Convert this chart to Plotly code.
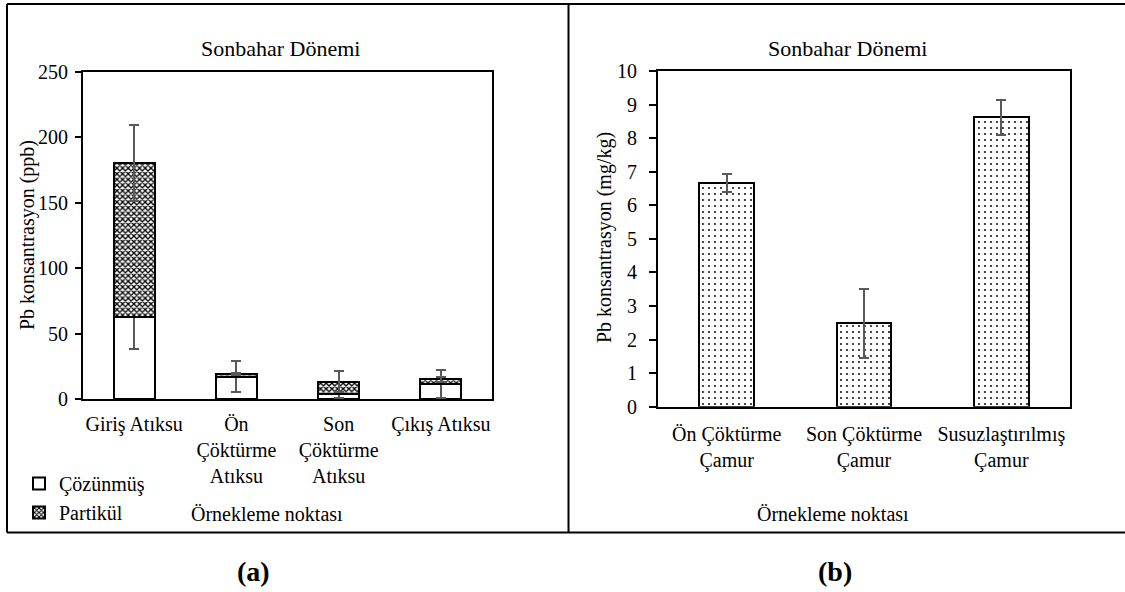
import plotly.graph_objects as go

W, H = 1125, 592

# Left panel data
cat_a = ["Giriş Atıksu", "Ön<br>Çöktürme<br>Atıksu", "Son<br>Çöktürme<br>Atıksu", "Çıkış Atıksu"]
cozunmus = [62.5, 17.0, 4.0, 11.5]
cozunmus_err = [24, 12, 3, 11]
partikul = [118.0, 2.0, 9.2, 3.5]
partikul_err = [29, 1, 8, 2]

# Right panel data
cat_b = ["Ön Çöktürme<br>Çamur", "Son Çöktürme<br>Çamur", "Susuzlaştırılmış<br>Çamur"]
camur = [6.66, 2.48, 8.62]
camur_err = [0.26, 1.03, 0.52]

FONT = "Liberation Serif"
ERRC = "#595959"

def px_x(p):
    return p / W

def px_y(p):
    return 1 - p / H

fig = go.Figure()

fig.add_trace(go.Bar(
    x=cat_a, y=cozunmus, name="Çözünmüş", xaxis="x", yaxis="y",
    marker=dict(color="white", line=dict(color="black", width=2)),
    error_y=dict(type="data", array=cozunmus_err, color=ERRC, thickness=2, width=5),
    width=0.4,
))
fig.add_trace(go.Bar(
    x=cat_a, y=partikul, name="Partikül", xaxis="x", yaxis="y",
    marker=dict(color="white", line=dict(color="black", width=2),
                pattern=dict(shape="x", fgcolor="black", bgcolor="white", size=4, solidity=0.55)),
    error_y=dict(type="data", array=partikul_err, color=ERRC, thickness=2, width=5),
    width=0.4,
))
fig.add_trace(go.Bar(
    x=cat_b, y=camur, name="Çamur", xaxis="x2", yaxis="y2", showlegend=False,
    marker=dict(color="white", line=dict(color="black", width=2),
                pattern=dict(shape=".", fgcolor="black", bgcolor="white", size=6, solidity=0.08)),
    error_y=dict(type="data", array=camur_err, color=ERRC, thickness=2, width=5),
    width=0.4,
))

axis_common = dict(showgrid=False, zeroline=False, showline=True, linecolor="black",
                   linewidth=2, mirror=True, automargin=False,
                   tickfont=dict(family=FONT, size=20, color="black"))

fig.update_layout(
    template="none",
    width=W, height=H,
    margin=dict(l=0, r=0, t=0, b=0, autoexpand=False),
    paper_bgcolor="white", plot_bgcolor="white",
    barmode="stack",
    font=dict(family=FONT, size=20, color="black"),
    xaxis=dict(domain=[px_x(83), px_x(492)], anchor="y", ticks="", ticklabelstandoff=6, **axis_common),
    yaxis=dict(domain=[px_y(399), px_y(72)], anchor="x", range=[0, 250], dtick=50,
               ticks="outside", ticklen=6, tickwidth=1.5, tickcolor="black",
               ticklabelstandoff=3, **axis_common),
    xaxis2=dict(domain=[px_x(658), px_x(1070)], anchor="y2", ticks="", ticklabelstandoff=8, **axis_common),
    yaxis2=dict(domain=[px_y(406.7), px_y(71)], anchor="x2", range=[0, 10], dtick=1,
                ticks="outside", ticklen=7, tickwidth=1.5, tickcolor="black",
                ticklabelstandoff=8, **axis_common),
    legend=dict(x=px_x(19), y=px_y(464), xanchor="left", yanchor="top",
                bgcolor="rgba(0,0,0,0)", font=dict(family=FONT, size=20, color="black"),
                traceorder="normal", tracegroupgap=0, itemwidth=30),
    showlegend=True,
)

def ann(text, x, y, size=20, angle=0):
    return dict(text=text, x=px_x(x), y=px_y(y), xref="paper", yref="paper",
                xanchor="center", yanchor="middle", showarrow=False, textangle=angle,
                font=dict(family=FONT, size=size, color="black"))

annotations = [
    ann("Sonbahar Dönemi", 280, 48, 22),
    ann("Sonbahar Dönemi", 847, 48, 22),
    ann("Pb konsantrasyon (ppb)", 28, 235, 20, -90),
    ann("Pb konsantrasyon (mg/kg)", 605, 238, 20, -90),
    ann("Örnekleme noktası", 267, 514),
    ann("Örnekleme noktası", 833, 514),
    ann("<b>(a)</b>", 253, 571, 28),
    ann("<b>(b)</b>", 835, 571, 28),
]
fig.update_layout(annotations=annotations)

def hline(y, x0, x1):
    return dict(type="line", xref="paper", yref="paper", x0=px_x(x0), x1=px_x(x1),
                y0=px_y(y), y1=px_y(y), line=dict(color="black", width=2))

def vline(x, y0, y1):
    return dict(type="line", xref="paper", yref="paper", x0=px_x(x), x1=px_x(x),
                y0=px_y(y0), y1=px_y(y1), line=dict(color="black", width=2))

shapes = [
    hline(4, 7, 1130),
    hline(532.5, 7, 1130),
    vline(7, 4, 532.5),
    vline(568.5, 4, 532.5),
]
fig.update_layout(shapes=shapes)

fig.write_html("out.html")
